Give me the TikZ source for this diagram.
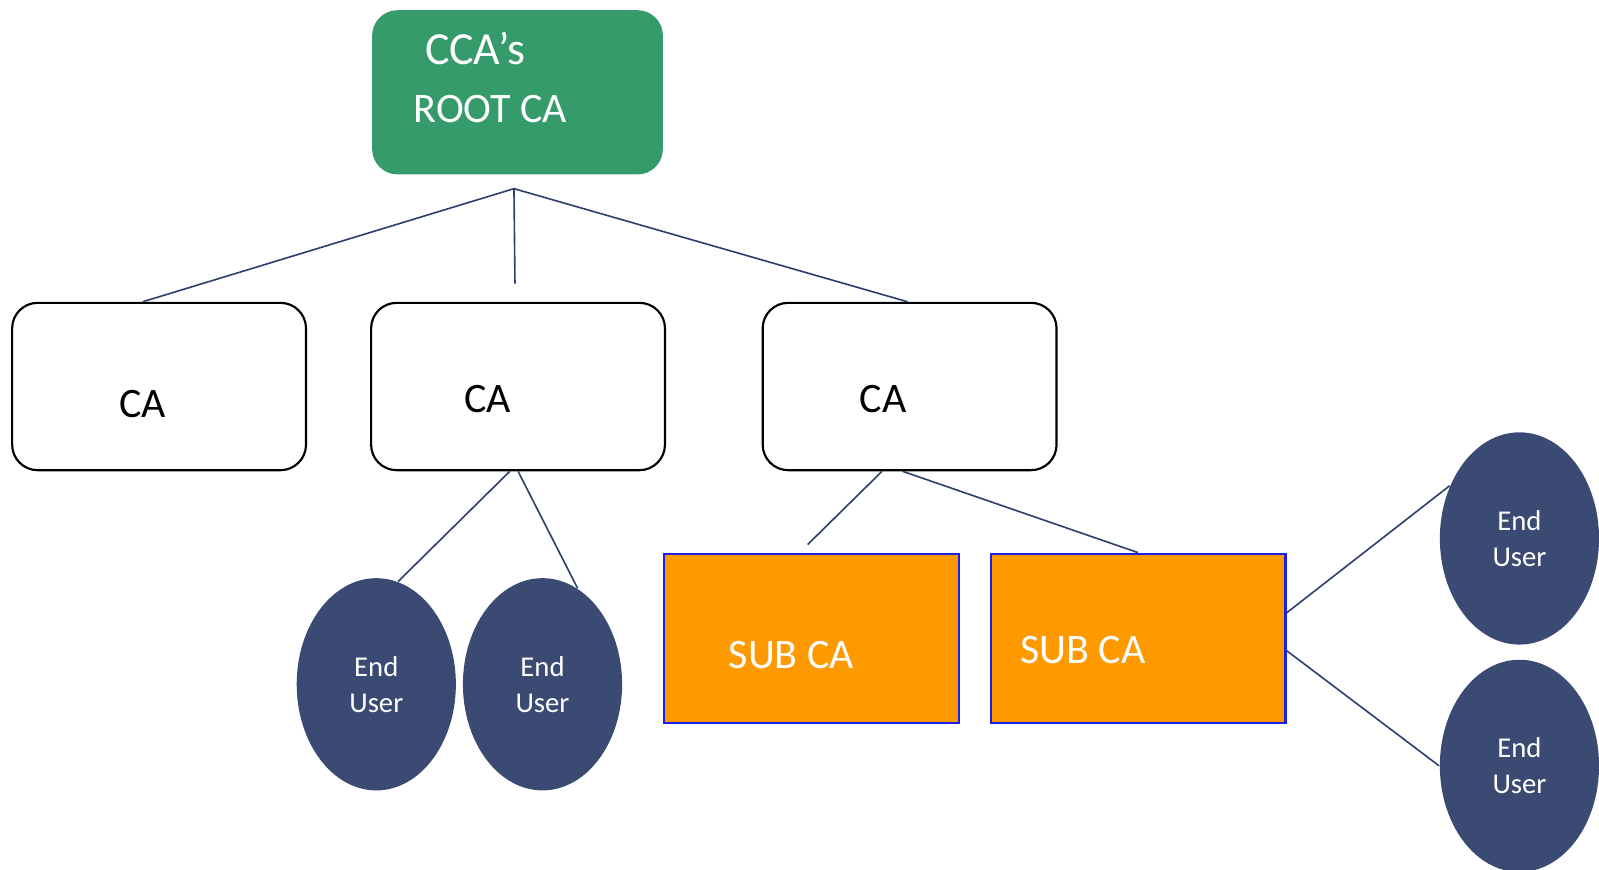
\documentclass[tikz,border=0pt]{standalone}
\usepackage{fontspec}
\setmainfont{Carlito}
\usepackage{tikz}
\usetikzlibrary{shapes.geometric}
\definecolor{rootgreen}{RGB}{53,155,106}
\definecolor{usernavy}{RGB}{59,74,114}
\definecolor{linknavy}{RGB}{46,62,110}
\definecolor{suborange}{RGB}{255,153,0}
\definecolor{subblue}{RGB}{30,30,235}

\begin{document}
\begin{tikzpicture}[x=0.01cm,y=-0.01cm,
    cabox/.style={draw=black,line width=0.6pt,rounded corners=0.25cm,minimum width=2.88cm,minimum height=1.64cm,inner sep=0pt},
    subbox/.style={draw=subblue,fill=suborange,line width=0.6pt,minimum width=2.89cm,minimum height=1.66cm,inner sep=0pt},
    enduser/.style={ellipse,fill=usernavy,text=white,minimum width=1.56cm,minimum height=2.08cm,inner sep=0pt,align=center,font=\fontsize{8}{10}\selectfont},
    link/.style={draw=linknavy,line width=0.45pt},
    catext/.style={anchor=base,inner sep=0pt,font=\fontsize{11.7}{14}\selectfont}]
    \useasboundingbox (0,0) rectangle (1568,853);
    % root
    \node[fill=rootgreen,rounded corners=0.25cm,minimum width=2.85cm,minimum height=1.61cm] (root) at (507.5,90.5) {};
    \node[catext,text=white,font=\fontsize{12.8}{15}\selectfont] at (466,63) {CCA’s};
    \node[catext,text=white] at (481,120) {ROOT CA};
    % CA level
    \node[cabox] (ca1) at (156,379) {};
    \node[cabox] (ca2) at (508,379) {};
    \node[cabox] (ca3) at (892,379) {};
    \node[catext] at (140,409) {CA};
    \node[catext] at (478,404) {CA};
    \node[catext] at (866,404) {CA};
    % sub CAs
    \node[subbox] (sub1) at (795.5,626) {};
    \node[subbox] (sub2) at (1116,626) {};
    \node[catext,text=white] at (776,656) {SUB CA};
    \node[catext,text=white] at (1062,651) {SUB CA};
    % end users
    \node[enduser] (eu1) at (369,671) {End\\User};
    \node[enduser] (eu2) at (532,671) {End\\User};
    \node[enduser] (eu3) at (1490,528) {End\\User};
    \node[enduser] (eu4) at (1490,751) {End\\User};
    % connectors
    \coordinate (hub) at (504,185);
    \coordinate (stub2) at (505,278);
    \coordinate (stub3) at (792,534);
    \draw[link] (hub) -- ([xshift=-0.16cm]ca1.north);
    \draw[link] (hub) -- (stub2);
    \draw[link] (hub) -- ([xshift=-0.02cm]ca3.north);
    \draw[link] ([xshift=-0.08cm]ca2.south) -- (eu1.78);
    \draw[link] (ca2.south) -- (eu2.70);
    \draw[link] ([xshift=-0.27cm]ca3.south) -- (stub3);
    \draw[link] ([xshift=-0.07cm]ca3.south) -- (sub2.north);
    \draw[link] ([yshift=0.25cm]sub2.east) -- (eu3.143);
    \draw[link] ([yshift=-0.12cm]sub2.east) -- (eu4.west);
\end{tikzpicture}
\end{document}
